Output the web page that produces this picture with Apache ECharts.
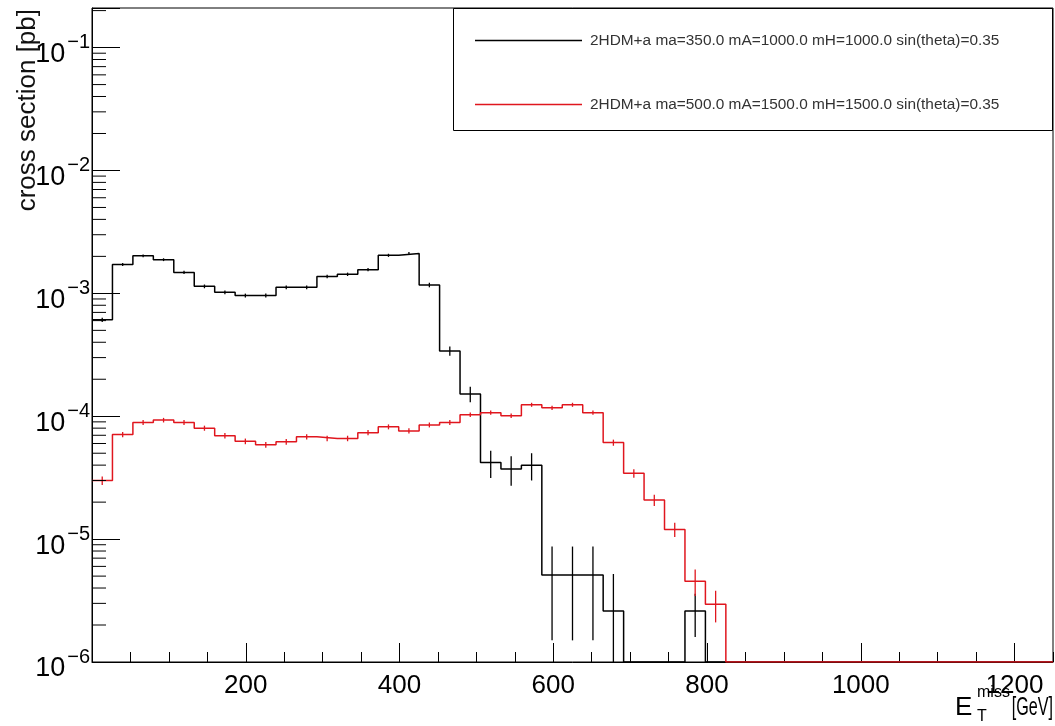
<!DOCTYPE html>
<html><head><meta charset="utf-8">
<script src="https://cdn.jsdelivr.net/npm/echarts@6/dist/echarts.min.js"></script>
<style>html,body{margin:0;padding:0;background:#fff}#c{width:1055px;height:726px}</style>
</head><body><div id="c"></div>
<script>
// ---- data ----
const xRange = [0, 1250];
const nBins = 47;
const seriesNames = [
  '2HDM+a ma=350.0 mA=1000.0 mH=1000.0 sin(theta)=0.35',
  '2HDM+a ma=500.0 mA=1500.0 mH=1500.0 sin(theta)=0.35'
];
const blackValues = [
  6.1e-4, 1.72e-3, 2.02e-3, 1.88e-3, 1.48e-3, 1.14e-3, 1.02e-3, 9.6e-4, 9.6e-4, 1.12e-3,
  1.12e-3, 1.37e-3, 1.43e-3, 1.56e-3, 2.04e-3, 2.11e-3, 1.17e-3, 3.4e-4, 1.52e-4, 4.2e-5,
  3.72e-5, 4.0e-5, 5.1e-6, 5.1e-6, 5.1e-6, 2.6e-6, 0, 0, 0, 2.6e-6,
  0, 0, 0, 0, 0, 0, 0, 0, 0, 0, 0, 0, 0, 0, 0, 0, 0
];
const blackErrors = [
  2.4e-5, 5e-5, 5.5e-5, 5e-5, 4.5e-5, 4e-5, 3.5e-5, 3.5e-5, 3.5e-5, 4e-5,
  4e-5, 4.5e-5, 4.5e-5, 5e-5, 6e-5, 6e-5, 5e-5, 3e-5, 2.2e-5, 1.05e-5,
  1.0e-5, 1.0e-5, 3.6e-6, 3.6e-6, 3.6e-6, 2.6e-6, 0, 0, 0, 1.0e-6,
  0, 0, 0, 0, 0, 0, 0, 0, 0, 0, 0, 0, 0, 0, 0, 0, 0
];
const redValues = [
  3.0e-5, 7.1e-5, 8.9e-5, 9.3e-5, 8.9e-5, 8.0e-5, 6.95e-5, 6.25e-5, 5.85e-5, 6.2e-5,
  6.8e-5, 6.6e-5, 6.6e-5, 7.35e-5, 8.2e-5, 7.6e-5, 8.5e-5, 8.9e-5, 1.03e-4, 1.07e-4,
  1.01e-4, 1.24e-4, 1.17e-4, 1.24e-4, 1.07e-4, 6.1e-5, 3.43e-5, 2.08e-5, 1.2e-5, 4.55e-6,
  2.95e-6, 0, 0, 0, 0, 0, 0, 0, 0, 0, 0, 0, 0, 0, 0, 0, 0
];
const redErrors = [
  2.4e-6, 3.5e-6, 4e-6, 4e-6, 4e-6, 3.8e-6, 3.5e-6, 3.3e-6, 3.2e-6, 3.3e-6,
  3.4e-6, 3.4e-6, 3.4e-6, 3.6e-6, 3.8e-6, 3.7e-6, 3.9e-6, 4e-6, 4.3e-6, 4.4e-6,
  4.3e-6, 4.7e-6, 4.6e-6, 4.7e-6, 4.4e-6, 3.5e-6, 2.7e-6, 2.2e-6, 1.6e-6, 1.1e-6,
  0.85e-6, 0, 0, 0, 0, 0, 0, 0, 0, 0, 0, 0, 0, 0, 0, 0, 0
];
const yRange = [1e-6, 0.21];
const xMajorStep = 200;
const xMinorStep = 50;
const yMinorMultipliers = [2, 3, 4, 5, 6, 7, 8, 9];
const yDecadeExponents = [-6, -5, -4, -3, -2, -1];

// ---- build ----
const FONT = 'Liberation Sans, Arial, Helvetica, sans-serif';
const BLACK = '#000000';
const RED = '#e0161e';
const binW = (xRange[1] - xRange[0]) / nBins;
const edges = [];
for (let i = 0; i <= nBins; i++) edges.push(xRange[0] + i * binW);

function stepData(vals) {
  const d = [];
  for (let i = 0; i < vals.length; i++) d.push([edges[i], vals[i] > 0 ? vals[i] : yRange[0]]);
  d.push([edges[vals.length], vals[vals.length - 1] > 0 ? vals[vals.length - 1] : yRange[0]]);
  return d;
}
function errData(vals, errs) {
  return vals.map((v, i) => [edges[i] + binW / 2, v, errs[i]]);
}
function errRender(color) {
  return function (params, api) {
    const c = api.value(0), v = api.value(1), e = api.value(2);
    if (!(v > 0) || !(e > 0)) return null;
    const lo = Math.max(v - e, yRange[0]);
    const p1 = api.coord([c, v + e]);
    const p2 = api.coord([c, lo]);
    return { type: 'line', shape: { x1: p1[0], y1: p1[1], x2: p2[0], y2: p2[1] },
      style: { stroke: color, lineWidth: 1.3 } };
  };
}
const minorTickVals = [];
yDecadeExponents.forEach(n => yMinorMultipliers.forEach(k => {
  const v = k * Math.pow(10, n);
  if (v < yRange[1]) minorTickVals.push([xRange[0], v]);
}));

const chart = echarts.init(document.getElementById('c'), null, { renderer: 'canvas' });
chart.setOption({
  animation: false,
  backgroundColor: '#ffffff',
  grid: { left: 92, right: 2, top: 8, bottom: 64, show: true, borderColor: '#000', borderWidth: 1, backgroundColor: 'transparent' },
  xAxis: [{
    type: 'value', min: xRange[0], max: xRange[1], interval: xMajorStep,
    axisLine: { show: true, onZero: false, lineStyle: { color: '#000', width: 1 } },
    axisTick: { show: true, inside: true, length: 19, lineStyle: { color: '#000' } },
    splitLine: { show: false },
    axisLabel: {
      color: '#000', fontSize: 26, fontFamily: FONT, margin: 11, showMaxLabel: false,
      formatter: v => (v > 0 && v % xMajorStep === 0) ? String(v) : ''
    }
  }, {
    type: 'value', min: xRange[0], max: xRange[1], interval: xMinorStep, position: 'bottom',
    axisLine: { show: false }, axisLabel: { show: false }, splitLine: { show: false },
    axisTick: { show: true, inside: true, length: 10, lineStyle: { color: '#000' } }
  }],
  yAxis: {
    type: 'log', logBase: 10, min: yRange[0], max: yRange[1],
    axisLine: { show: true, lineStyle: { color: '#000' } },
    axisTick: { show: true, inside: true, length: 28, lineStyle: { color: '#000' } },
    splitLine: { show: false },
    axisLabel: {
      color: '#000', fontSize: 26, fontFamily: FONT, margin: 2,
      formatter: v => {
        const n = Math.log10(v);
        if (Math.abs(n - Math.round(n)) > 1e-6) return '';
        return '{b|10}{s|\u2212' + Math.abs(Math.round(n)) + '}';
      },
      rich: {
        b: { fontSize: 27, fontFamily: FONT, color: '#000', padding: [14, 0, 0, 0] },
        s: { fontSize: 20, fontFamily: FONT, color: '#000', padding: [0, 0, 10, 2] }
      }
    }
  },
  legend: {
    data: seriesNames.map(n => ({ name: n, icon: 'rect' })),
    orient: 'vertical', left: 470, top: 28,
    itemWidth: 107, itemHeight: 1.6, itemGap: 49, selectedMode: false,
    textStyle: { fontSize: 15.4, fontFamily: FONT, color: '#333', padding: [0, 0, 0, 3] }
  },
  graphic: [
    { type: 'rect', shape: { x: 453.5, y: 8.5, width: 599, height: 122 },
      style: { fill: 'none', stroke: '#000', lineWidth: 1 }, z: 10 },
    { type: 'text', x: 28, y: 9, rotation: Math.PI / 2,
      style: { text: 'cross section [pb]', fontSize: 26, fontFamily: FONT, fill: '#111', align: 'right', verticalAlign: 'middle' } },
    { type: 'text', x: 955, y: 708,
      style: { text: 'E', fontSize: 26, fontFamily: FONT, fill: '#000', align: 'left', verticalAlign: 'middle' } },
    { type: 'text', x: 977, y: 693,
      style: { text: 'miss', fontSize: 16, fontFamily: FONT, fill: '#000', align: 'left', verticalAlign: 'middle' } },
    { type: 'text', x: 977, y: 717,
      style: { text: 'T', fontSize: 16, fontFamily: FONT, fill: '#000', align: 'left', verticalAlign: 'middle' } },
    { type: 'text', x: 1053, y: 708, scaleX: 0.62,
      style: { text: '[GeV]', fontSize: 26, fontFamily: FONT, fill: '#000', align: 'right', verticalAlign: 'middle' } }
  ],
  series: [
    { name: seriesNames[0], type: 'line', step: 'end', data: stepData(blackValues), symbol: 'none',
      lineStyle: { color: BLACK, width: 1.5 }, itemStyle: { color: BLACK }, clip: true, z: 3 },
    { name: seriesNames[1], type: 'line', step: 'end', data: stepData(redValues), symbol: 'none',
      lineStyle: { color: RED, width: 1.5 }, itemStyle: { color: RED }, clip: true, z: 4 },
    { name: 'err0', type: 'custom', data: errData(blackValues, blackErrors), renderItem: errRender(BLACK), clip: true, z: 3 },
    { name: 'err1', type: 'custom', data: errData(redValues, redErrors), renderItem: errRender(RED), clip: true, z: 4 },
    { name: 'yminor', type: 'custom', data: minorTickVals, z: 5,
      renderItem: function (params, api) {
        const p = api.coord([api.value(0), api.value(1)]);
        return { type: 'line', shape: { x1: p[0], y1: p[1], x2: p[0] + 14, y2: p[1] },
          style: { stroke: '#000', lineWidth: 1 } };
      } }
  ]
});
</script>
</body></html>
